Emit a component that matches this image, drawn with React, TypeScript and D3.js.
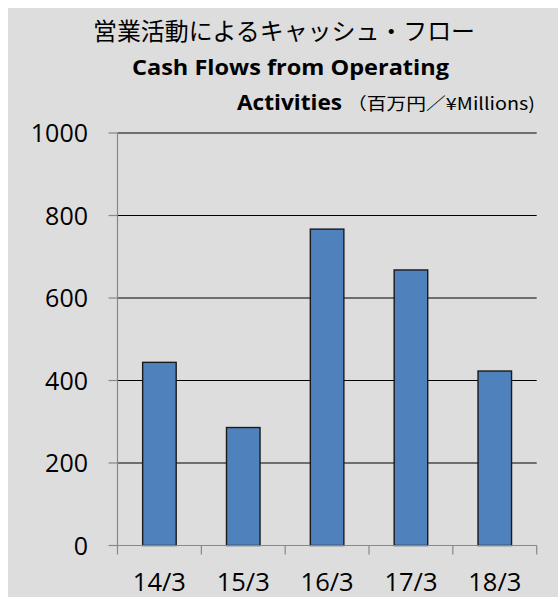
import React from "react";
import * as d3 from "d3";

const categories = ["14/3", "15/3", "16/3", "17/3", "18/3"];
const values = [444, 286, 767, 668, 423];
const yTicks = [0, 200, 400, 600, 800, 1000];
const titleJa = "営業活動によるキャッシュ・フロー";
const titleEn1 = "Cash Flows from Operating";
const titleEn2 = "Activities";
const unitLabel = "（百万円／¥Millions)";

const W = 558;
const H = 597;
const left = 117.5;
const right = 536.7;
const top = 133;
const bottom = 545.5;

export default function App() {
  const x = d3.scaleBand<string>().domain(categories).range([left, right]).paddingInner(0.6).paddingOuter(0.3);
  const y = d3.scaleLinear().domain([0, 1000]).range([bottom, top]);
  const step = x.step();
  const boundaries = d3.range(categories.length + 1).map((i) => left + i * step);
  const font = "'Open Sans', 'Noto Sans', sans-serif";
  return (
    <svg width={W} height={H} style={{ position: "absolute", left: 0, top: 0 }}>
      <rect x={8} y={8} width={W - 8} height={H - 8} fill="#dddddd" />
      <text x={284} y={40} textAnchor="middle" fontFamily="'Noto Sans CJK JP', sans-serif" fontSize={24} fill="#000" textLength={382} lengthAdjust="spacingAndGlyphs">{titleJa}</text>
      <text x={290.5} y={75} textAnchor="middle" fontFamily={font} fontWeight="bold" fontSize={22} fill="#000" textLength={317} lengthAdjust="spacingAndGlyphs">{titleEn1}</text>
      <text x={237} y={110} fontFamily={font} fontWeight="bold" fontSize={22} fill="#000" textLength={105} lengthAdjust="spacingAndGlyphs">{titleEn2}</text>
      <text x={347} y={110} fontFamily="'Noto Sans CJK JP', sans-serif" fontSize={17} fill="#000" textLength={188} lengthAdjust="spacingAndGlyphs">{unitLabel}</text>
      {yTicks.filter((t) => t > 0).map((t) => (
        <line key={"g" + t} x1={left} x2={right} y1={y(t)} y2={y(t)} stroke="#000" strokeWidth={1.2} />
      ))}
      {values.map((v, i) => (
        <rect key={categories[i]} x={x(categories[i])} y={y(v)} width={x.bandwidth()} height={bottom - y(v)} fill="#4f81bd" stroke="#1a1a1a" strokeWidth={1.4} />
      ))}
      <line x1={left} x2={left} y1={top} y2={bottom} stroke="#888" strokeWidth={1.2} />
      <line x1={left} x2={right} y1={bottom} y2={bottom} stroke="#888" strokeWidth={1.2} />
      {yTicks.map((t) => (
        <g key={"y" + t}>
          <line x1={left - 9} x2={left} y1={y(t)} y2={y(t)} stroke="#888" strokeWidth={1.2} />
          <text x={88} y={y(t)} dy="0.36em" textAnchor="end" fontFamily={font} fontSize={25} fill="#000">{t}</text>
        </g>
      ))}
      {boundaries.map((b, i) => (
        <line key={"xt" + i} x1={b} x2={b} y1={bottom} y2={bottom + 9} stroke="#888" strokeWidth={1.2} />
      ))}
      {categories.map((c) => (
        <text key={"xl" + c} x={(x(c) as number) + x.bandwidth() / 2} y={591} textAnchor="middle" fontFamily={font} fontSize={25.5} fill="#000">{c}</text>
      ))}
    </svg>
  );
}
